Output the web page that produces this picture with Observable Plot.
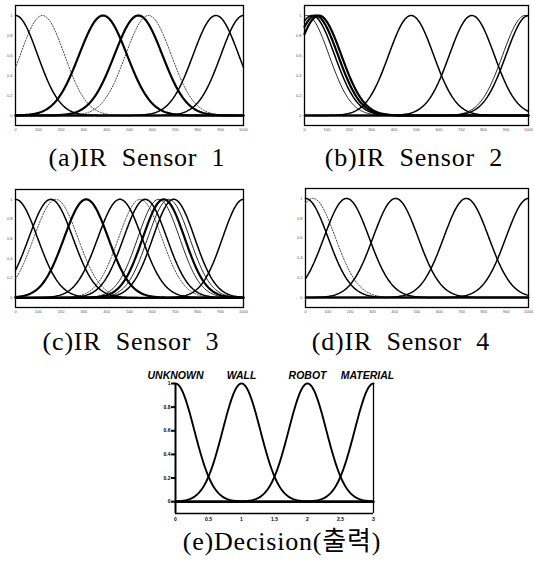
<!DOCTYPE html>
<html>
<head>
<meta charset="utf-8">
<script src="https://cdn.jsdelivr.net/npm/d3@7"></script>
<script src="https://cdn.jsdelivr.net/npm/@observablehq/plot@0.6"></script>
<style>
  body { margin: 0; background: #fff; }
  #fig { position: relative; width: 534px; height: 567px; overflow: hidden; background: #fff; }
  .panel { position: absolute; }
  .cap { position: absolute; font-family: "Liberation Serif", "Times New Roman", "Noto Sans CJK KR", serif;
         font-size: 26px; line-height: 26px; white-space: nowrap; color: #000; text-align: center;
         letter-spacing: 0.8px; word-spacing: 7px; }
</style>
</head>
<body>
<div id="fig"></div>
<script>
// ---------------- DATA ----------------
// Sensor panels: x axis 0..1000, membership functions = (center, width)
const sensorTicks = [0, 100, 200, 300, 400, 500, 600, 700, 800, 900, 1000];
const sensorYTicks = [0, 0.2, 0.4, 0.6, 0.8, 1];

const centersA = [0, 118, 384, 539, 583, 879, 1000];
const widthsA  = [97, 97, 105, 105, 100, 100, 99];

const centersB = [11, 34, 49, 64, 476, 747, 985, 1000];
const widthsB  = [98, 100, 100, 100, 100, 100, 100, 100];

const centersC = [0, 155, 177, 310, 458, 547, 569, 628, 650, 672, 694, 1000];
const widthsC  = [97, 97, 97, 97, 97, 95, 95, 92, 92, 92, 92, 92];

const centersD = [0, 33, 184, 404, 721, 1000];
const widthsD  = [101, 101, 101, 101, 101, 101];

// Decision panel
const decisionLabels  = ["UNKNOWN", "WALL", "ROBOT", "MATERIAL"];
const decisionCenters = [0, 1, 2, 3];
const decisionWidths  = [0.284, 0.284, 0.284, 0.284];
const decisionTicks   = [0, 0.5, 1, 1.5, 2, 2.5, 3];
const decisionYTicks  = [0, 0.2, 0.4, 0.6, 0.8, 1];

const captions = ["(a)IR Sensor 1", "(b)IR Sensor 2", "(c)IR Sensor 3", "(d)IR Sensor 4", "(e)Decision(출력)"];

// ---------------- STYLES (kept apart from the data) ----------------
const stylesA = ["solid", "dot", "thick", "thick", "dot", "solid", "solid"];
const stylesB = ["thin", "solid", "thick", "thick", "solid", "solid", "thin", "solid"];
const stylesC = ["solid", "solid", "dot", "thick", "solid", "dot", "solid", "thin", "thick", "thin", "solid", "solid"];
const stylesD = ["solid", "dot", "solid", "solid", "solid", "solid"];

const lineStyle = {
  thick: {stroke: "#000", strokeWidth: 2.2},
  solid: {stroke: "#000", strokeWidth: 1.5},
  thin:  {stroke: "#222", strokeWidth: 1.0},
  dot:   {stroke: "#444", strokeWidth: 1.0, strokeDasharray: "1.2,1.6"}
};

function membership(centers, widths, lo, hi, n) {
  const rows = [];
  centers.forEach((c, i) => {
    for (let k = 0; k <= n; k++) {
      const x = lo + (hi - lo) * k / n;
      rows.push({i, x, y: Math.exp(-0.5 * ((x - c) / widths[i]) ** 2)});
    }
  });
  return rows;
}

const fig = document.getElementById("fig");

function place(node, left, top) {
  const d = document.createElement("div");
  d.className = "panel";
  d.style.left = left + "px";
  d.style.top = top + "px";
  d.appendChild(node);
  fig.appendChild(d);
}

function sensorPanel(centers, widths, styles, box) {
  const rows = membership(centers, widths, 0, 1000, 250);
  const marks = [
    Plot.frame({stroke: "#000", strokeWidth: 1.3}),
    Plot.ruleY([0], {stroke: "#000", strokeWidth: 2}),
    Plot.axisX(sensorTicks, {tickSize: 0, tickPadding: 3, fontSize: 4, fill: "#555", label: null, tickFormat: d => String(d)}),
    Plot.axisY(sensorYTicks, {tickSize: 0, tickPadding: 3, fontSize: 4, fill: "#555", label: null, tickFormat: d => String(d)})
  ];
  for (const s of ["dot", "thin", "solid", "thick"]) {
    const sub = rows.filter(r => styles[r.i] === s);
    if (sub.length) marks.push(Plot.line(sub, {x: "x", y: "y", z: "i", ...lineStyle[s]}));
  }
  const svg = Plot.plot({
    width: box.w, height: box.h,
    marginLeft: box.ml, marginRight: box.mr, marginTop: box.mt, marginBottom: box.mb,
    x: {domain: [0, 1000], label: null},
    y: {domain: [-0.1, 1.1], label: null},
    style: {background: "transparent", fontFamily: "Liberation Sans"},
    marks
  });
  place(svg, box.left, box.top);
}

sensorPanel(centersA, widthsA, stylesA, {left: 0,   top: 0,   w: 250, h: 135, ml: 15, mr: 7, mt: 5, mb: 10});
sensorPanel(centersB, widthsB, stylesB, {left: 290, top: 0,   w: 244, h: 135, ml: 14, mr: 6, mt: 5, mb: 10});
sensorPanel(centersC, widthsC, stylesC, {left: 0,   top: 184, w: 250, h: 133, ml: 15, mr: 7, mt: 5, mb: 10});
sensorPanel(centersD, widthsD, stylesD, {left: 290, top: 183, w: 244, h: 134, ml: 15, mr: 6, mt: 5, mb: 10});

// Decision panel
{
  const rows = membership(decisionCenters, decisionWidths, 0, 3, 240);
  const labelRows = decisionLabels.map((label, i) => ({label, x: decisionCenters[i]}));
  const labelText = {y: () => 1, text: "label", dy: -5, lineAnchor: "bottom", fontSize: 10.5,
    fontWeight: "bold", fontStyle: "italic", fill: "#000"};
  const svg = Plot.plot({
    width: 260, height: 165,
    marginLeft: 35, marginRight: 27, marginTop: 23, marginBottom: 12,
    x: {domain: [0, 3], label: null},
    y: {domain: [-0.1, 1], label: null},
    style: {background: "transparent", fontFamily: "Liberation Sans", overflow: "visible"},
    marks: [
      Plot.ruleX([0], {y1: -0.1, y2: 1, stroke: "#000", strokeWidth: 2}),
      Plot.ruleX([3], {y1: -0.1, y2: 1, stroke: "#000", strokeWidth: 1.3}),
      Plot.ruleY([-0.1], {stroke: "#000", strokeWidth: 1.6}),
      Plot.ruleY([0], {stroke: "#000", strokeWidth: 2.2}),
      Plot.axisY(decisionYTicks, {tickSize: 4, tickPadding: 1, strokeWidth: 2, fontSize: 5, fontWeight: "bold", label: null, tickFormat: d => String(d)}),
      Plot.axisX(decisionTicks, {tickSize: 0, tickPadding: 4, fontSize: 5, fontWeight: "bold", label: null, tickFormat: d => String(d)}),
      Plot.line(rows, {x: "x", y: "y", z: "i", stroke: "#000", strokeWidth: 1.9}),
      Plot.text(labelRows.slice(0, 3), {x: "x", ...labelText}),
      Plot.text(labelRows.slice(3), {x: "x", dx: -6, ...labelText})
    ]
  });
  place(svg, 140, 360);
}

// Captions
const capPos = [
  {cx: 137, base: 167}, {cx: 414, base: 167},
  {cx: 131, base: 351}, {cx: 401, base: 351},
  {cx: 282, base: 551}
];
captions.forEach((t, i) => {
  const d = document.createElement("div");
  d.className = "cap";
  d.textContent = t;
  d.style.width = "260px";
  d.style.left = (capPos[i].cx - 130) + "px";
  d.style.top = (capPos[i].base - 22) + "px";
  fig.appendChild(d);
});
</script>
</body>
</html>
